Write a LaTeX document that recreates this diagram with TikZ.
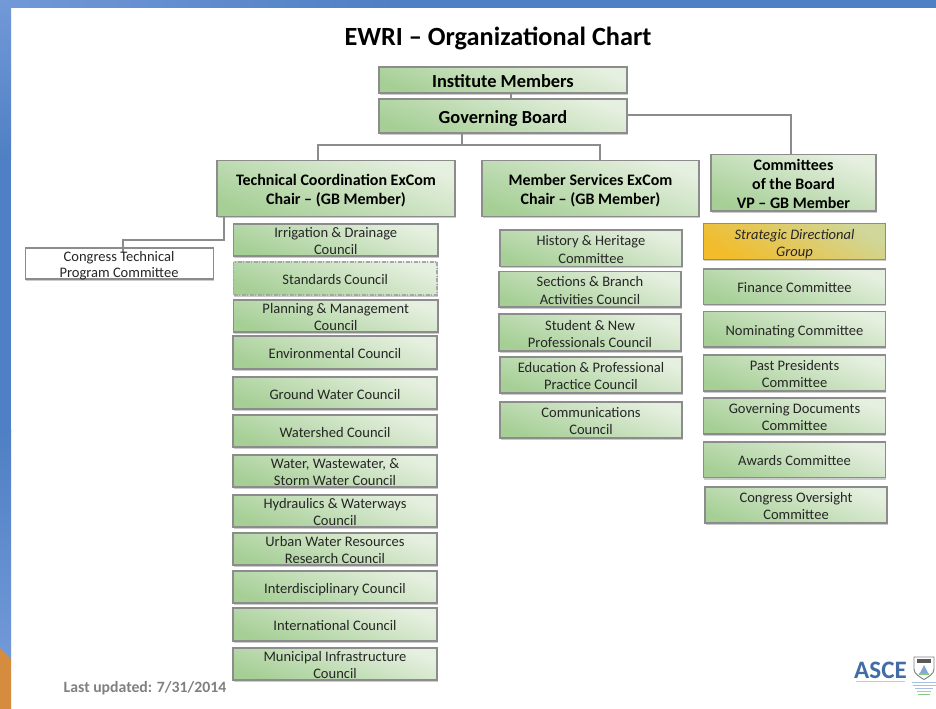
\documentclass[tikz,border=0pt]{standalone}
\usepackage{fontspec}
\setmainfont{Carlito}
\usetikzlibrary{shadows}
\definecolor{bluebar}{HTML}{4F7FC4}
\definecolor{bluepale}{HTML}{7299D8}
\definecolor{orangecorner}{HTML}{D68C3F}
\definecolor{greenlow}{HTML}{A6CF96}
\definecolor{greenhigh}{HTML}{E6F0E0}
\definecolor{goldlow}{HTML}{F2BC2B}
\definecolor{goldhigh}{HTML}{CFD79A}
\definecolor{edgegray}{HTML}{8C8C8C}
\definecolor{textsoft}{HTML}{262626}
\tikzset{
  x=0.75pt,y=-0.75pt,
  softshadow/.style={copy shadow={draw=none,fill=black!45,opacity=0.45,shadow xshift=0.4pt,shadow yshift=-1.5pt}},
  orgbox/.style={draw=edgegray,line width=1.15pt,inner sep=0pt,
    font=\fontsize{10.9pt}{12.9pt}\selectfont,text=textsoft,
    left color=greenlow,right color=greenhigh,shading angle=160,softshadow},
  headbox/.style={orgbox,font=\bfseries\fontsize{12pt}{13.9pt}\selectfont,text=black},
  topbox/.style={orgbox,font=\bfseries\fontsize{13.8pt}{16pt}\selectfont,text=black},
  whitebox/.style={draw=edgegray,line width=1.1pt,inner sep=0pt,fill=white,softshadow},
  goldbox/.style={orgbox,left color=goldlow,right color=goldhigh,shading angle=150,font=\itshape\fontsize{10.9pt}{12.9pt}\selectfont},
  dashbox/.style={orgbox,draw=gray!70,dash pattern=on 3pt off 1pt on 1pt off 1pt},
  link/.style={draw=edgegray,line width=1.3pt},
}
% name, x1, y1, x2, y2, style, text
\newcommand{\bx}[7]{\node[#6,minimum width={(#4-#2)*0.75pt},minimum height={(#5-#3)*0.75pt}] (#1) at ({(#2+#4)/2},{(#3+#5)/2}) {\raisebox{-0.44em}[0pt][0pt]{\begin{tabular}{@{}c@{}}#7\end{tabular}}};}
\begin{document}
\begin{tikzpicture}
\useasboundingbox (0,0) rectangle (936,709);
\fill[white] (0,0) rectangle (936,709);
% slide frame
\shade[left color=bluepale,right color=bluebar] (0,0) rectangle (400,8);
\fill[bluebar] (400,0) rectangle (936,8);
\shade[top color=bluepale,bottom color=bluebar] (0,0) rectangle (11,160);
\fill[bluebar] (0,160) rectangle (11,430);
\shade[top color=bluebar,bottom color=bluepale] (0,430) rectangle (11,660);
\fill[orangecorner] (0,648) -- (11,659) -- (11,709) -- (0,709) -- cycle;

\node[font=\bfseries\fontsize{19.7pt}{22pt}\selectfont,text=black] (title) at (498,38) {EWRI – Organizational Chart};

\bx{im}{379}{67}{627}{93}{topbox}{Institute Members}
\bx{gb}{379}{99}{627}{133}{topbox}{Governing Board}
\bx{tc}{217}{160.5}{455}{216.5}{headbox}{Technical Coordination ExCom\\Chair – (GB Member)}
\bx{ms}{482}{160.5}{699}{216.5}{headbox}{Member Services ExCom\\Chair – (GB Member)}
\bx{cb}{711}{154.5}{876}{211}{headbox}{Committees\\of the Board\\VP – GB Member}
\node[whitebox,minimum width={188*0.75pt},minimum height={31*0.75pt}] (ct) at (119.5,263.5) {};

% connectors
\coordinate (jn) at (462,145);
\coordinate (imj) at (511,96);
\coordinate (lbend) at (224,240);
\coordinate (cbend) at (123,240);
\coordinate (cend) at (123,252);
\coordinate (rbend) at (791,115);
\draw[link] (im.south -| imj) -- (gb.north -| imj);
\draw[link] (gb.south -| jn) -- (jn);
\coordinate (tcx) at (318,145);
\coordinate (msx) at (600,145);
\draw[link] (tc.north -| tcx) -- (tcx) -- (msx) -- (ms.north -| msx);
\draw[link] (gb.east |- rbend) -- (rbend) -- (cb.north -| rbend);
\draw[link] (tc.south -| lbend) -- (lbend) -- (cbend) -- (cend);

\node[font=\fontsize{10.9pt}{12.4pt}\selectfont,text=textsoft,align=center] (cttext) at (119,265.5) {Congress Technical\\Program Committee};

% technical councils
\bx{c1}{233.5}{224}{438}{256}{orgbox}{Irrigation \& Drainage\\Council}
\bx{c2}{233.5}{262}{437}{295}{dashbox}{Standards Council}
\bx{c3}{233.5}{300}{438}{332}{orgbox}{Planning \& Management\\Council}
\bx{c4}{233}{336}{437}{369}{orgbox}{Environmental Council}
\bx{c5}{233}{377}{437}{409}{orgbox}{Ground Water Council}
\bx{c6}{233}{415}{437}{447}{orgbox}{Watershed Council}
\bx{c7}{233}{455}{437}{487}{orgbox}{Water, Wastewater, \&\\Storm Water Council}
\bx{c8}{233}{495}{437}{527}{orgbox}{Hydraulics \& Waterways\\Council}
\bx{c9}{233}{533}{437}{565}{orgbox}{Urban Water Resources\\Research Council}
\bx{c10}{233}{571}{437}{603}{orgbox}{Interdisciplinary Council}
\bx{c11}{233}{608}{437}{641}{orgbox}{International Council}
\bx{c12}{233}{648}{437}{680}{orgbox}{Municipal Infrastructure\\Council}

% member services
\bx{m1}{500}{230}{682}{266.5}{orgbox}{History \& Heritage\\Committee}
\bx{m2}{499}{271.5}{681}{307}{orgbox}{Sections \& Branch\\Activities Council}
\bx{m3}{499}{314}{681}{351}{orgbox}{Student \& New\\Professionals Council}
\bx{m4}{500}{357}{682}{393}{orgbox}{Education \& Professional\\Practice  Council}
\bx{m5}{500}{402}{682}{438}{orgbox}{Communications\\Council}

% committees
\bx{b1}{703.5}{223.5}{885.5}{259.5}{goldbox}{Strategic Directional\\Group}
\bx{b2}{703.5}{269}{885.5}{304.5}{orgbox}{Finance Committee}
\bx{b3}{703.5}{311.5}{885.5}{347}{orgbox}{Nominating Committee}
\bx{b4}{703.5}{355}{885.5}{391}{orgbox}{Past Presidents\\Committee}
\bx{b5}{703.5}{398}{885.5}{434}{orgbox}{Governing Documents\\Committee}
\bx{b6}{703.5}{442}{885.5}{477.5}{orgbox}{Awards Committee}
\bx{b7}{705}{487}{887}{523}{orgbox}{Congress Oversight\\Committee}

\node[font=\bfseries\fontsize{11.8pt}{13pt}\selectfont,text=gray] (upd) at (145,688) {Last updated: 7/31/2014};

% logo
\node[font=\bfseries\fontsize{18.8pt}{19pt}\selectfont,text=bluebar!85!black,inner sep=0pt] (asce) at (880.5,670) {ASCE};
\draw[bluebar!40!white,line width=0.5pt] (856,681) -- (905,681);
\draw[gray,line width=0.7pt,fill=white] (914,657) -- (934,657) -- (934,669) .. controls (934,674) and (928,677) .. (924,679.5) .. controls (920,677) and (914,674) .. (914,669) -- cycle;
\fill[gray!70!black] (917,659) rectangle (931,663);
\fill[bluebar!70!white] (924,665) -- (928,673) -- (920,673) -- cycle;
\fill[green!40!gray!70!white] (919,673) rectangle (929,675);
\foreach \yy/\xa/\xb in {682/912/936,685/913/936,688/915/933,691/917/931}
  \draw[bluebar!50!white,line width=0.6pt] (\xa,\yy) -- (\xb,\yy);
\draw[green!40!gray!70!white,line width=0.6pt] (918,694) -- (930,694);
\end{tikzpicture}
\end{document}
